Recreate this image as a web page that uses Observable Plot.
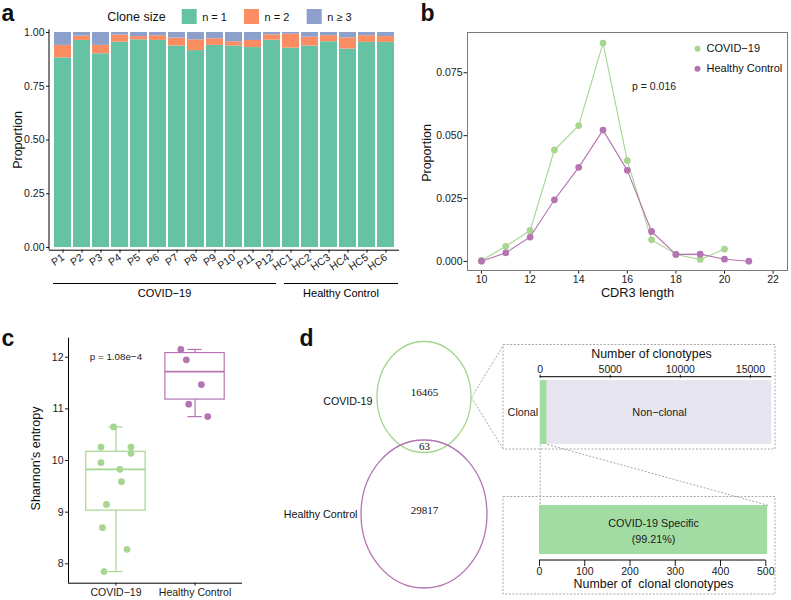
<!DOCTYPE html>
<html><head><meta charset="utf-8">
<script src="https://cdn.jsdelivr.net/npm/d3@7"></script>
<script src="https://cdn.jsdelivr.net/npm/@observablehq/plot@0.6"></script>
<style>
body{margin:0;background:#fff;}
#fig{position:relative;width:791px;height:600px;overflow:hidden;background:#fff;}
</style></head><body><div id="fig"></div>
<script>
// ---------------- DATA ----------------
// Panel a
const samples = ["P1","P2","P3","P4","P5","P6","P7","P8","P9","P10","P11","P12","HC1","HC2","HC3","HC4","HC5","HC6"];
const cloneSizes = ["n = 1","n = 2","n \u2265 3"];
const propN1 = [0.882,0.963,0.901,0.955,0.966,0.963,0.937,0.916,0.940,0.937,0.930,0.964,0.927,0.937,0.957,0.923,0.954,0.954];
const propN2 = [0.058,0.020,0.039,0.033,0.015,0.022,0.037,0.050,0.031,0.020,0.033,0.025,0.065,0.041,0.028,0.052,0.031,0.027];
const propN3 = [0.060,0.017,0.060,0.012,0.019,0.015,0.026,0.034,0.029,0.043,0.037,0.011,0.008,0.022,0.015,0.025,0.015,0.019];
const yTicksA = [0,0.25,0.5,0.75,1];
const groupNames = ["COVID\u221219","Healthy Control"];
const groupFirst = ["P1","HC1"];
const groupLast = ["P12","HC6"];

// Panel b
const cdr3Covid = [10,11,12,13,14,15,16,17,18,19,20];
const propCovid = [0.0004,0.0060,0.0123,0.0443,0.0540,0.0868,0.0401,0.0086,0.0028,0.0008,0.0049];
const cdr3HC = [10,11,12,13,14,15,16,17,18,19,20,21];
const propHC = [0.0001,0.0034,0.0097,0.0245,0.0374,0.0522,0.0362,0.0119,0.0028,0.0029,0.0009,0.0001];
const xTicksB = [10,12,14,16,18,20,22];
const yTicksB = [0,0.025,0.05,0.075];
const seriesB = ["COVID\u221219","Healthy Control"];
const pValueB = "p = 0.016";

// Panel c
const groupsC = ["COVID\u221219","Healthy Control"];
const entropyCovid = [10.65,10.26,10.26,10.14,9.96,9.83,9.59,9.15,8.70,8.28,7.85];
const jitterCovid = [-0.03,-0.19,0.19,0.19,-0.19,0.05,0.07,-0.12,-0.17,0.14,-0.15];
const entropyHC = [12.15,11.95,11.47,11.09,10.85];
const jitterHC = [-0.18,-0.11,0.08,-0.08,0.16];
const boxLower = [7.85,10.85];
const boxQ1 = [9.03,11.18];
const boxMedian = [9.83,11.72];
const boxQ3 = [10.17,12.08];
const boxUpper = [10.65,12.15];
const yTicksC = [8,9,10,11,12];
const pValueC = "p = 1.08e\u22124";

// Panel d
const vennSets = ["COVID-19","Healthy Control"];
const vennCounts = [16465,63,29817]; // COVID only, shared, HC only
const clonotypeClass = ["Clonal","Non\u2212clonal"];
const clonotypeCount = [504,16024];
const xTicksDTop = [0,5000,10000,15000];
const clonalClass = ["COVID-19 Specific"];
const clonalCount = [504];
const clonalPct = "99.21%";
const xTicksDBottom = [0,100,200,300,400,500];

// ---------------- STYLE / LAYOUT ----------------
const FONT = '"Liberation Sans", Arial, Helvetica, sans-serif';
const SERIF = '"Liberation Serif", "Times New Roman", serif';
const cloneColors = ["#66C2A5","#FC8D62","#8DA0CB"];
const covidColor = "#A6D68F";
const hcColor = "#B574B3";
const clonalGreen = "#A2DCA2";
const lavender = "#E7E5EF";
const dashGray = "#A8A8A8";
const baseStyle = {fontFamily: FONT, fontSize: "10px", background: "transparent", color: "#1a1a1a", overflow: "visible"};

const fig = document.getElementById("fig");
function place(svg, left, top) {
  svg.style.position = "absolute";
  svg.style.left = left + "px";
  svg.style.top = top + "px";
  fig.appendChild(svg);
}

// ---------------- PANEL A ----------------
const aRows = [];
samples.forEach((s, i) => {
  aRows.push({sample: s, size: cloneSizes[0], value: propN1[i]});
  aRows.push({sample: s, size: cloneSizes[1], value: propN2[i]});
  aRows.push({sample: s, size: cloneSizes[2], value: propN3[i]});
});
const groupLineInset = [[-1, -4], [2, 4]]; // px offsets of group underline ends
const plotA = Plot.plot({
  width: 410, height: 300,
  marginLeft: 49, marginRight: 11, marginTop: 29.3, marginBottom: 50.3,
  style: {...baseStyle, fontSize: "10.5px"},
  x: {domain: samples, paddingInner: 0.1, paddingOuter: 0.15, tickRotate: -35, tickSize: 3, tickPadding: 3, label: null},
  y: {domain: [-0.0125, 1.0125], ticks: yTicksA, tickFormat: d3.format(".2f"), tickSize: 3, tickPadding: 2, label: null},
  color: {domain: cloneSizes, range: cloneColors},
  marks: [
    Plot.barY(aRows, {x: "sample", y: "value", fill: "size"}),
    Plot.ruleY([-0.0125], {stroke: "#000"}),
    (index, scales, values, dim) => {
      const g = d3.create("svg:g");
      g.append("line").attr("x1", dim.marginLeft).attr("x2", dim.marginLeft)
        .attr("y1", dim.marginTop).attr("y2", dim.height - dim.marginBottom).attr("stroke", "#000");
      const x = scales.x, bw = x.bandwidth ? x.bandwidth() : 0;
      groupNames.forEach((name, i) => {
        const x1 = x(groupFirst[i]) + groupLineInset[i][0], x2 = x(groupLast[i]) + bw + groupLineInset[i][1];
        g.append("line").attr("x1", x1).attr("x2", x2).attr("y1", 283.5).attr("y2", 283.5).attr("stroke", "#000");
        g.append("text").attr("x", (x1 + x2) / 2).attr("y", 296.5).attr("text-anchor", "middle")
          .attr("font-size", 11).attr("fill", "#000").text(name);
      });
      return g.node();
    }
  ]
});
place(plotA, 0, 0);

// ---------------- PANEL B ----------------
const bCovid = cdr3Covid.map((l, i) => ({len: l, p: propCovid[i]}));
const bHC = cdr3HC.map((l, i) => ({len: l, p: propHC[i]}));
const plotB = Plot.plot({
  width: 371, height: 300,
  marginLeft: 47, marginRight: 4, marginTop: 32, marginBottom: 30,
  style: {...baseStyle, fontSize: "10.5px"},
  x: {domain: [9.424, 22.592], ticks: xTicksB, tickSize: 3.5, tickPadding: 2, label: null},
  y: {domain: [-0.0036, 0.0910], ticks: yTicksB, tickFormat: d3.format(".3f"), tickSize: 3.5, tickPadding: 1.5, label: null},
  marks: [
    Plot.frame({stroke: "#7a7a7a"}),
    Plot.line(bCovid, {x: "len", y: "p", stroke: covidColor, strokeWidth: 1.1}),
    Plot.dot(bCovid, {x: "len", y: "p", r: 3.4, fill: covidColor}),
    Plot.line(bHC, {x: "len", y: "p", stroke: hcColor, strokeWidth: 1.1}),
    Plot.dot(bHC, {x: "len", y: "p", r: 3.4, fill: hcColor}),
    Plot.text([pValueB], {x: 17.1, y: 0.0695, text: d => d, fontSize: 10.5})
  ]
});
place(plotB, 420, 0);

// ---------------- PANEL C ----------------
const boxRows = groupsC.map((g, i) => ({g, x: i + 1, lo: boxLower[i], q1: boxQ1[i], med: boxMedian[i], q3: boxQ3[i], hi: boxUpper[i], color: i === 0 ? covidColor : hcColor}));
const cPts = entropyCovid.map((v, i) => ({x: 1 + jitterCovid[i], v, color: covidColor}))
  .concat(entropyHC.map((v, i) => ({x: 2 + jitterHC[i], v, color: hcColor})));
const plotC = Plot.plot({
  width: 260, height: 300,
  marginLeft: 68, marginRight: 18, marginTop: 37.7, marginBottom: 17.3,
  style: {...baseStyle, fontSize: "10.5px"},
  x: {domain: [0.4, 2.6], ticks: [1, 2], tickFormat: d => groupsC[d - 1], tickSize: 3, tickPadding: 2, label: null},
  y: {domain: [7.625, 12.368], ticks: yTicksC, tickFormat: "d", tickSize: 3, tickPadding: 2, label: null},
  color: {type: "identity"},
  marks: [
    Plot.ruleX([0.4], {stroke: "#000"}),
    Plot.ruleY([7.625], {stroke: "#000"}),
    Plot.ruleX(boxRows, {x: "x", y1: "q3", y2: "hi", stroke: "color", strokeWidth: 1.2}),
    Plot.ruleX(boxRows, {x: "x", y1: "lo", y2: "q1", stroke: "color", strokeWidth: 1.2}),
    Plot.ruleY(boxRows, {y: "hi", x1: d => d.x - 0.09, x2: d => d.x + 0.09, stroke: "color", strokeWidth: 1.2}),
    Plot.ruleY(boxRows, {y: "lo", x1: d => d.x - 0.09, x2: d => d.x + 0.09, stroke: "color", strokeWidth: 1.2}),
    Plot.rect(boxRows, {x1: d => d.x - 0.375, x2: d => d.x + 0.375, y1: "q1", y2: "q3", fill: "white", stroke: "color", strokeWidth: 1.2}),
    Plot.ruleY(boxRows, {y: "med", x1: d => d.x - 0.375, x2: d => d.x + 0.375, stroke: "color", strokeWidth: 1.8}),
    Plot.dot(cPts, {x: "x", y: "v", r: 3.4, fill: "color"}),
    Plot.text([pValueC], {x: 1, y: 12, text: d => d, fontSize: 9.8})
  ]
});
place(plotC, 0, 300);

// ---------------- PANEL D: top bar ----------------
const topRows = clonotypeClass.map((c, i) => ({cls: c, count: clonotypeCount[i], row: "all"}));
const plotDTop = Plot.plot({
  width: 272, height: 106,
  marginLeft: 36.7, marginRight: 3.7, marginTop: 32.7, marginBottom: 6,
  style: {...baseStyle, fontSize: "10.5px"},
  x: {axis: "top", domain: [0, d3.sum(clonotypeCount)], range: [36.7, 268.3], ticks: xTicksDTop, tickFormat: "d", tickSize: 3, tickPadding: 1.5, label: null},
  y: {domain: ["all"], range: [35.3, 100], padding: 0, axis: null},
  color: {domain: clonotypeClass, range: [clonalGreen, lavender]},
  marks: [
    Plot.barX(topRows, {x: "count", y: "row", fill: "cls"}),
    (index, scales, values, dim) => d3.create("svg:line").attr("x1", dim.marginLeft).attr("x2", dim.width - dim.marginRight)
        .attr("y1", dim.marginTop).attr("y2", dim.marginTop).attr("stroke", "#000").node(),
    Plot.text([topRows[0]], {x: 0, y: "row", text: "cls", textAnchor: "end", dx: -2, fontSize: 10.8}),
    Plot.text([topRows[1]], {x: d => clonotypeCount[0] + d.count / 2, y: "row", text: "cls", fontSize: 10.8})
  ]
});
place(plotDTop, 503, 344);

// ---------------- PANEL D: bottom bar ----------------
const botRows = clonalClass.map((c, i) => ({cls: c, count: clonalCount[i], row: "all", label: c + "\n(" + clonalPct + ")"}));
const plotDBot = Plot.plot({
  width: 272, height: 98,
  marginLeft: 36, marginRight: 9.7, marginTop: 9, marginBottom: 34,
  style: {...baseStyle, fontSize: "10.5px"},
  x: {domain: [0, 500], ticks: xTicksDBottom, tickFormat: "d", tickSize: 6, tickPadding: 1.5, label: null},
  y: {domain: ["all"], range: [9, 58], padding: 0, axis: null},
  marks: [
    Plot.barX(botRows, {x: "count", y: "row", fill: clonalGreen}),
    (index, scales, values, dim) => d3.create("svg:line").attr("x1", dim.marginLeft).attr("x2", dim.width - dim.marginRight)
        .attr("y1", dim.height - dim.marginBottom).attr("y2", dim.height - dim.marginBottom).attr("stroke", "#000").node(),
    Plot.text(botRows, {x: d => d.count / 2, y: "row", text: "label", fontSize: 10.8, lineHeight: 1.45})
  ]
});
place(plotDBot, 503, 496);

// ---------------- OVERLAY: titles, legends, Venn, connectors ----------------
const T = (t, x, y, fs) => ({t, x, y, fs});
const textsMid = [
  T("Clone size", 136, 16, 12.5),
  T("CDR3 length", 637, 292, 12.8),
  T("Number of clonotypes", 651, 353.3, 12.4),
  T("Number of\u00a0 clonal clonotypes", 653, 584, 12.4)
];
const textsStart = [
  T(cloneSizes[0], 201.7, 16.5, 11),
  T(cloneSizes[1], 264, 16.5, 11),
  T(cloneSizes[2], 326.7, 16.5, 11),
  T(seriesB[0], 706, 48.3, 11),
  T(seriesB[1], 706, 68.3, 11)
];
const textsEnd = [
  T(vennSets[0], 372, 401, 10.7),
  T(vennSets[1], 357, 514, 10.7)
];
const rotTexts = [
  T("Proportion", 17, 139.5, 12.5),
  T("Proportion", 426, 152.5, 12.5),
  T("Shannon's entropy", 35, 458, 12.3)
];
const letters = [T("a", 1, 20), T("b", 420, 20), T("c", 1, 345.3), T("d", 299, 345.5)];
const vennText = [T(String(vennCounts[0]), 424, 392), T(String(vennCounts[1]), 424, 446), T(String(vennCounts[2]), 424, 510)];
const vennEllipses = [{cx: 424, cy: 397, rx: 47, ry: 55.5, color: covidColor}, {cx: 424, cy: 514, rx: 63, ry: 74, color: hcColor}];
const dashBoxes = [{x1: 503, x2: 775, y1: 344.5, y2: 449}, {x1: 503, x2: 775, y1: 496.5, y2: 594}];
const connectors = [
  {x1: 471, y1: 397, x2: 503, y2: 344.5},
  {x1: 471, y1: 397, x2: 503, y2: 449},
  {x1: 539.7, y1: 444, x2: 539.7, y2: 505},
  {x1: 547, y1: 444, x2: 768, y2: 505}
];
const swatches = [
  {x1: 181.7, x2: 196.7, y1: 9, y2: 24, c: cloneColors[0]},
  {x1: 244, x2: 259, y1: 9, y2: 24, c: cloneColors[1]},
  {x1: 306.7, x2: 321.7, y1: 9, y2: 24, c: cloneColors[2]}
];
const legDots = [{x: 697, y: 48.3, c: covidColor}, {x: 697, y: 68.3, c: hcColor}];

const overlay = Plot.plot({
  width: 791, height: 600, margin: 0,
  style: {...baseStyle, pointerEvents: "none"},
  x: {domain: [0, 791], range: [0, 791], axis: null},
  y: {domain: [0, 600], range: [0, 600], axis: null},
  color: {type: "identity"},
  marks: [
    Plot.rect(dashBoxes, {x1: "x1", x2: "x2", y1: "y1", y2: "y2", fill: "none", stroke: dashGray, strokeDasharray: "2,1.6", strokeWidth: 1}),
    Plot.link(connectors, {x1: "x1", y1: "y1", x2: "x2", y2: "y2", stroke: dashGray, strokeDasharray: "2,1.6", strokeWidth: 1}),
    (index, scales) => {
      const g = d3.create("svg:g");
      vennEllipses.forEach(e => g.append("ellipse").attr("cx", scales.x(e.cx)).attr("cy", scales.y(e.cy))
        .attr("rx", e.rx).attr("ry", e.ry).attr("fill", "none").attr("stroke", e.color).attr("stroke-width", 1.3));
      return g.node();
    },
    Plot.rect(swatches, {x1: "x1", x2: "x2", y1: "y1", y2: "y2", fill: "c"}),
    Plot.dot(legDots, {x: "x", y: "y", r: 3, fill: "c"}),
    Plot.text(textsMid, {x: "x", y: "y", text: "t", fontSize: "fs", textAnchor: "middle", fill: "#111"}),
    Plot.text(textsStart, {x: "x", y: "y", text: "t", fontSize: "fs", textAnchor: "start", fill: "#111"}),
    Plot.text(textsEnd, {x: "x", y: "y", text: "t", fontSize: "fs", textAnchor: "end", fill: "#111"}),
    Plot.text(rotTexts, {x: "x", y: "y", text: "t", fontSize: 12.5, rotate: -90, fill: "#111"}),
    Plot.text(letters, {x: "x", y: "y", text: "t", fontSize: 23, fontWeight: "bold", textAnchor: "start", lineAnchor: "bottom", fill: "#111"}),
    Plot.text(vennText, {x: "x", y: "y", text: "t", fontSize: 11, fontFamily: SERIF, fill: "#111"})
  ]
});
place(overlay, 0, 0);
</script></body></html>
